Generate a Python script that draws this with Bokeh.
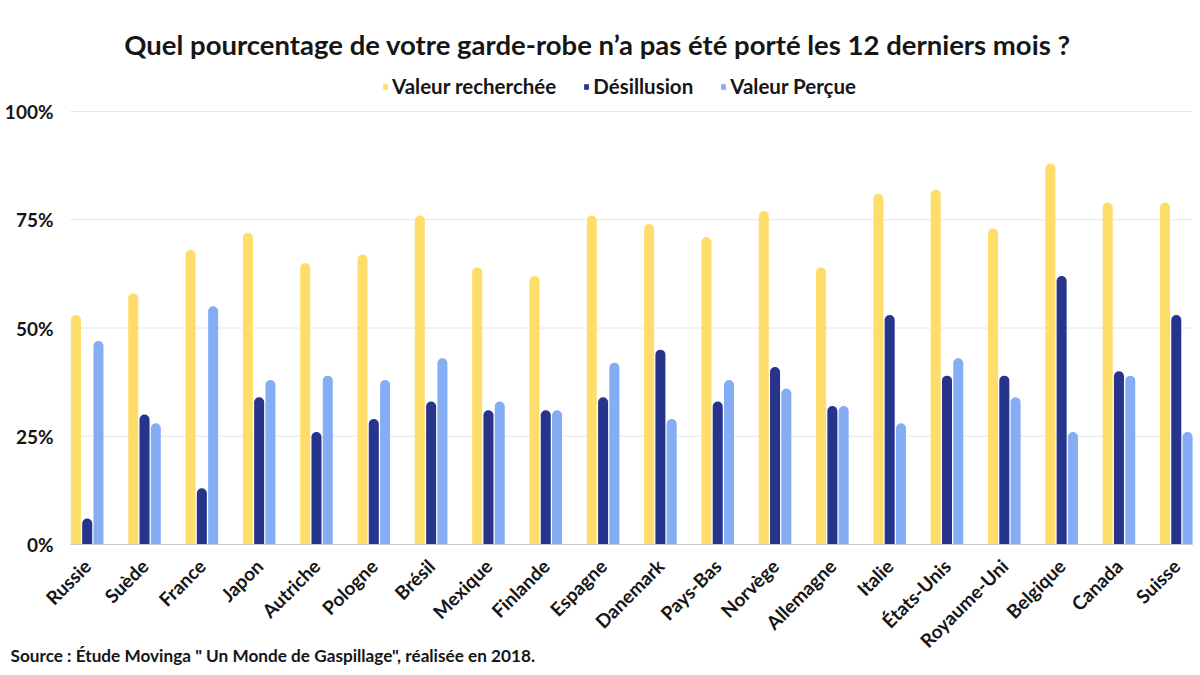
from bokeh.plotting import figure
from bokeh.models import Range1d, FixedTicker, Legend, LegendItem, Label, PrintfTickFormatter, ColumnDataSource
from bokeh.transform import dodge
from bokeh.embed import file_html
from bokeh.resources import INLINE
import math

countries = ["Russie", "Suède", "France", "Japon", "Autriche", "Pologne", "Brésil", "Mexique",
             "Finlande", "Espagne", "Danemark", "Pays-Bas", "Norvège", "Allemagne", "Italie",
             "États-Unis", "Royaume-Uni", "Belgique", "Canada", "Suisse"]
valeur_recherchee = [53, 58, 68, 72, 65, 67, 76, 64, 62, 76, 74, 71, 77, 64, 81, 82, 73, 88, 79, 79]
desillusion = [6, 30, 13, 34, 26, 29, 33, 31, 31, 34, 45, 33, 41, 32, 53, 39, 39, 62, 40, 53]
valeur_percue = [47, 28, 55, 38, 39, 38, 43, 33, 31, 42, 29, 38, 36, 32, 28, 43, 34, 26, 39, 26]
series_names = ["Valeur recherchée", "Désillusion", "Valeur Perçue"]
y_ticks = [0, 25, 50, 75, 100]
title_text = "Quel pourcentage de votre garde-robe n’a pas été porté les 12 derniers mois ?"
source_text = "Source : Étude Movinga \" Un Monde de Gaspillage\", réalisée en 2018."

colors = ["#FFDD6B", "#27348B", "#85ADF3"]
FONT = "Lato"
TXT = "#161616"

# ---- layout (pixels) ----
W, H = 1195, 672
PX_X = 57.32            # pixels per category
X0_PX = 86.7            # pixel of first category centre
PX_Y = 4.33             # pixels per percent
Y0_PX = 544             # pixel of 0 %
x_start = -X0_PX / PX_X
x_end = x_start + W / PX_X
plot_left = (70 - X0_PX) / PX_X
plot_right = (1192 - X0_PX) / PX_X
y_start = -(H - Y0_PX) / PX_Y
y_end = Y0_PX / PX_Y

src = ColumnDataSource(dict(x=list(range(len(countries))), a=valeur_recherchee,
                            b=desillusion, c=valeur_percue))

p = figure(width=W, height=H, output_backend="svg", toolbar_location=None,
           x_range=Range1d(x_start, x_end), y_range=Range1d(y_start, y_end),
           min_border_left=0, min_border_right=0, min_border_top=0, min_border_bottom=0,
           outline_line_color=None, background_fill_color="white", border_fill_color="white")

# horizontal grid lines at the y ticks, limited to the plotting area
p.segment(x0=plot_left, x1=plot_right, y0=y_ticks, y1=y_ticks,
          line_color="#E6E6E6", line_width=1, level="underlay")

w = 0.175
off = 0.197
renderers = []
for col, o, c in zip(["a", "b", "c"], [-off, 0, off], colors):
    r = p.vbar(x=dodge("x", o), top=col, bottom=0, width=w, source=src,
               fill_color=c, line_color=None, border_radius=(5, 5, 0, 0))
    renderers.append(r)

legend = Legend(items=[LegendItem(label=n, renderers=[r]) for n, r in zip(series_names, renderers)],
                orientation="horizontal", location=(382, H - 98),
                label_text_font=FONT, label_text_font_style="bold", label_text_font_size="20.5px",
                label_text_color=TXT, glyph_width=6, glyph_height=7, label_standoff=4,
                spacing=27, padding=6, margin=0, border_line_color=None,
                background_fill_alpha=0)
p.add_layout(legend, "center")

p.add_layout(Label(x=597, y=H - 44, x_units="screen", y_units="screen", text=title_text,
                   text_align="center", text_baseline="middle", text_font=FONT,
                   text_font_style="bold", text_font_size="27.5px", text_color=TXT))
p.add_layout(Label(x=10, y=H - 655, x_units="screen", y_units="screen", text=source_text,
                   text_align="left", text_baseline="middle", text_font=FONT,
                   text_font_style="bold", text_font_size="17.2px", text_color=TXT))

# axes, fixed inside the frame
p.xaxis.fixed_location = 0
p.xaxis.bounds = (plot_left, plot_right)
p.xaxis.ticker = FixedTicker(ticks=list(range(len(countries))))
p.xaxis.major_label_overrides = {i: n for i, n in enumerate(countries)}
p.xaxis.major_label_orientation = math.pi / 4
p.xaxis.major_label_text_font = FONT
p.xaxis.major_label_text_font_style = "bold"
p.xaxis.major_label_text_font_size = "19px"
p.xaxis.major_label_text_color = TXT
p.xaxis.major_label_standoff = 12
p.xaxis.major_tick_line_color = None
p.xaxis.minor_tick_line_color = None
p.xaxis.axis_line_color = "#C9C9C9"
p.xaxis.axis_line_width = 1

p.yaxis.fixed_location = plot_left
p.yaxis.bounds = (0, 100)
p.yaxis.ticker = FixedTicker(ticks=y_ticks)
p.yaxis.formatter = PrintfTickFormatter(format="%d%%")
p.yaxis.major_label_text_font = FONT
p.yaxis.major_label_text_font_style = "bold"
p.yaxis.major_label_text_font_size = "19px"
p.yaxis.major_label_text_color = TXT
p.yaxis.major_label_standoff = 11
p.yaxis.major_tick_line_color = None
p.yaxis.minor_tick_line_color = None
p.yaxis.axis_line_color = None

p.xgrid.grid_line_color = None
p.ygrid.grid_line_color = None

open("out.html", "w").write(file_html(p, INLINE))
